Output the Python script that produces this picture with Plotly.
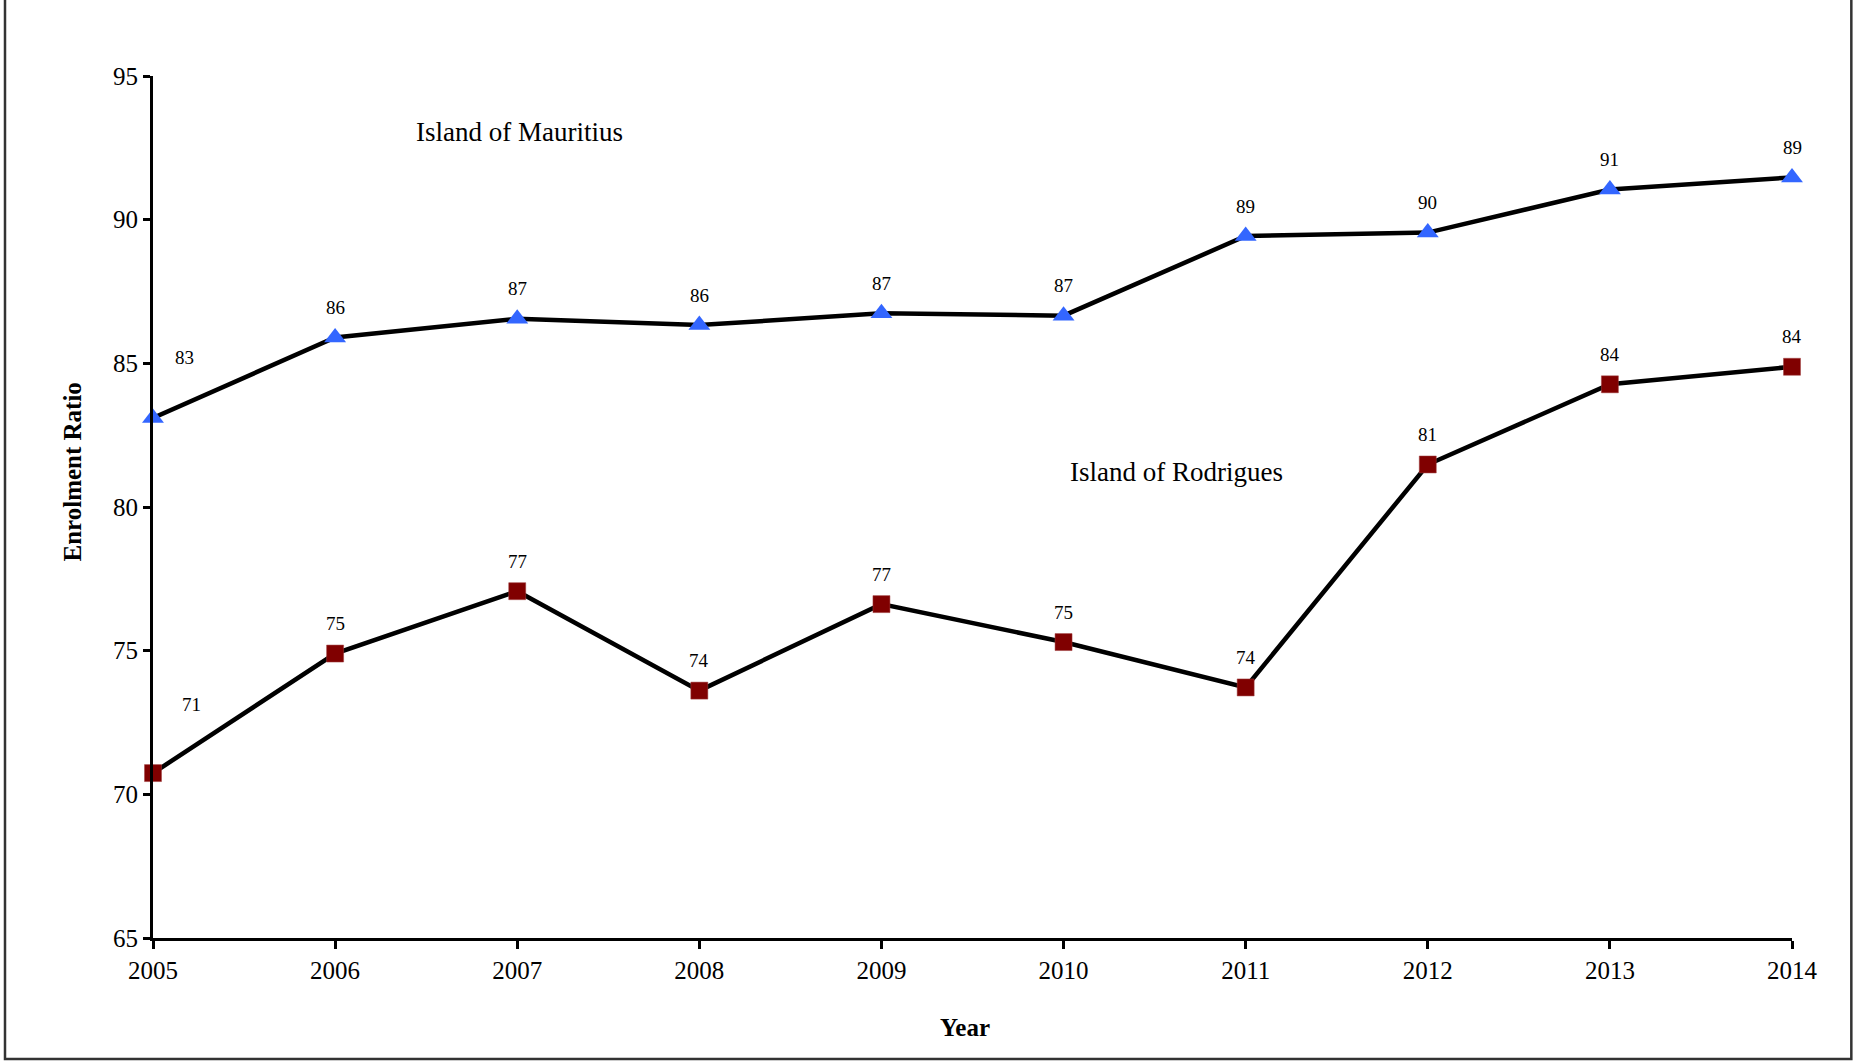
import plotly.graph_objects as go

years = [2005, 2006, 2007, 2008, 2009, 2010, 2011, 2012, 2013, 2014]
mauritius = [83.1, 85.9, 86.55, 86.33, 86.74, 86.66, 89.43, 89.55, 91.05, 91.47]
mauritius_labels = ["83", "86", "87", "86", "87", "87", "89", "90", "91", "89"]
rodrigues = [70.74, 74.9, 77.07, 73.61, 76.62, 75.3, 73.72, 81.48, 84.27, 84.88]
rodrigues_labels = ["71", "75", "77", "74", "77", "75", "74", "81", "84", "84"]
y_ticks = [65, 70, 75, 80, 85, 90, 95]

FONT = "Liberation Serif, Times New Roman, serif"

fig = go.Figure()
fig.add_trace(go.Scatter(
    x=years, y=mauritius, mode="lines+markers", name="Island of Mauritius",
    line=dict(color="black", width=4.5),
    marker=dict(symbol="triangle-up", size=19, color="#3366FF"),
    cliponaxis=False, showlegend=False,
))
fig.add_trace(go.Scatter(
    x=years, y=rodrigues, mode="lines+markers", name="Island of Rodrigues",
    line=dict(color="black", width=4.5),
    marker=dict(symbol="square", size=17, color="#800000",
                line=dict(color="#a04040", width=0.5)),
    cliponaxis=False, showlegend=False,
))

annotations = []
for i, (x, y, t) in enumerate(zip(years, mauritius, mauritius_labels)):
    annotations.append(dict(x=x, y=y, text=t, showarrow=False, xref="x", yref="y",
                            xshift=31 if i == 0 else 0, yshift=60 if i == 0 else 30,
                            font=dict(family=FONT, size=19, color="black")))
for i, (x, y, t) in enumerate(zip(years, rodrigues, rodrigues_labels)):
    annotations.append(dict(x=x, y=y, text=t, showarrow=False, xref="x", yref="y",
                            xshift=38 if i == 0 else 0, yshift=69 if i == 0 else 30,
                            font=dict(family=FONT, size=19, color="black")))

annotations.append(dict(x=2007.014, y=93.06, xref="x", yref="y", text="Island of Mauritius",
                        showarrow=False, font=dict(family=FONT, size=27, color="black")))
annotations.append(dict(x=2010.62, y=81.22, xref="x", yref="y", text="Island of Rodrigues",
                        showarrow=False, font=dict(family=FONT, size=27, color="black")))
annotations.append(dict(x=-0.0488, y=0.540, xref="paper", yref="paper", text="<b>Enrolment Ratio</b>",
                        textangle=-90, showarrow=False, xanchor="center", yanchor="middle",
                        font=dict(family=FONT, size=25, color="black")))
annotations.append(dict(x=0.4954, y=-0.1033, xref="paper", yref="paper", text="<b>Year</b>",
                        showarrow=False, xanchor="center", yanchor="middle",
                        font=dict(family=FONT, size=25, color="black")))

fig.update_layout(
    width=1860, height=1061,
    margin=dict(l=153, r=68, t=76, b=123, pad=0),
    paper_bgcolor="white", plot_bgcolor="white",
    font=dict(family=FONT, color="black"),
    annotations=annotations,
    shapes=[dict(type="rect", xref="paper", yref="paper",
                 x0=-0.0903, x1=1.0362, y0=-0.1405, y1=1.2,
                 line=dict(color="#333333", width=2.5), fillcolor="rgba(0,0,0,0)", layer="below")],
)
fig.update_xaxes(
    range=[2005, 2014], tickmode="array", tickvals=years, ticktext=[str(y) for y in years],
    showline=True, linecolor="black", linewidth=3, ticks="outside", ticklen=8, tickwidth=2.5,
    tickcolor="black", showgrid=False, zeroline=False,
    tickfont=dict(family=FONT, size=25, color="black"),
)
fig.update_yaxes(
    range=[65, 95], tickmode="array", tickvals=y_ticks,
    showline=True, linecolor="black", linewidth=3, ticks="outside", ticklen=7, tickwidth=2.5,
    tickcolor="black", showgrid=False, zeroline=False,
    tickfont=dict(family=FONT, size=25, color="black"),
)

fig.write_html("out.html", config={"displayModeBar": False},
               post_script="document.body.style.margin='0';document.body.style.overflow='hidden';")
